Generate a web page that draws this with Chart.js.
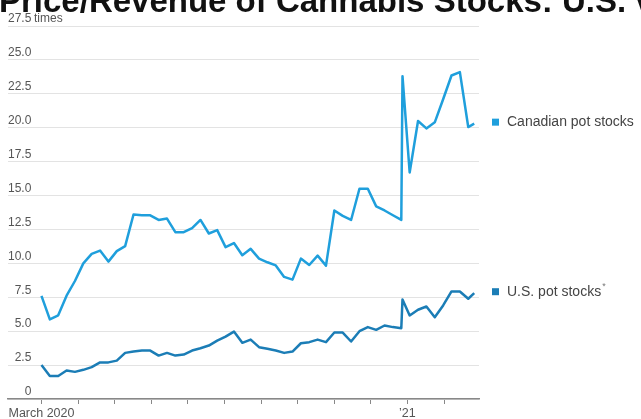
<!DOCTYPE html>
<html>
<head>
<meta charset="utf-8">
<script src="https://cdn.jsdelivr.net/npm/chart.js@4.4.0/dist/chart.umd.min.js"></script>
<style>
html, body { margin: 0; padding: 0; background: #fff; overflow: hidden; width: 641px; height: 419px; }
#wrap { position: relative; width: 641px; height: 423px; }
#myChart { position: absolute; left: 0; top: 0; }
#title { position: absolute; left: -1px; top: -16px; font: bold 33px "Liberation Sans", Arial, sans-serif; line-height: 33px; white-space: nowrap; color: #111; }
</style>
</head>
<body>
<div id="wrap">
  <canvas id="myChart" width="641" height="423"></canvas>
  <div id="title">Price/Revenue of Cannabis Stocks: U.S. vs. Canada</div>
</div>
<script>
// weekly observations (one extra print on Dec 28 and a last one on Feb 26)
const fechas = [
  '2020-03-01','2020-03-08','2020-03-15','2020-03-22','2020-03-29',
  '2020-04-05','2020-04-12','2020-04-19','2020-04-26',
  '2020-05-03','2020-05-10','2020-05-17','2020-05-24','2020-05-31',
  '2020-06-07','2020-06-14','2020-06-21','2020-06-28',
  '2020-07-05','2020-07-12','2020-07-19','2020-07-26',
  '2020-08-02','2020-08-09','2020-08-16','2020-08-23','2020-08-30',
  '2020-09-06','2020-09-13','2020-09-20','2020-09-27',
  '2020-10-04','2020-10-11','2020-10-18','2020-10-25',
  '2020-11-01','2020-11-08','2020-11-15','2020-11-22','2020-11-29',
  '2020-12-06','2020-12-13','2020-12-20','2020-12-27','2020-12-28',
  '2021-01-03','2021-01-10','2021-01-17','2021-01-24','2021-01-31',
  '2021-02-07','2021-02-14','2021-02-21','2021-02-26'
]
const canadienses = [
  7.6, 5.87, 6.17, 7.62, 8.7,
  10.0, 10.7, 10.94, 10.13,
  10.9, 11.27, 13.6, 13.54, 13.54,
  13.2, 13.3, 12.3, 12.3,
  12.6, 13.2, 12.2, 12.45,
  11.2, 11.5, 10.6, 11.07, 10.35,
  10.08, 9.85, 9.0, 8.8,
  10.35, 9.88, 10.57, 9.83,
  13.9, 13.5, 13.2, 15.5, 15.5,
  14.2, 13.9, 13.55, 13.2, 23.8,
  16.7, 20.5, 19.95, 20.4, 22.1,
  23.85, 24.1, 20.05, 20.3
]
const estadounidenses = [
  2.5, 1.7, 1.7, 2.1, 2.0,
  2.15, 2.35, 2.7, 2.7,
  2.83, 3.4, 3.5, 3.57, 3.57,
  3.2, 3.4, 3.2, 3.28,
  3.57, 3.74, 3.94, 4.3,
  4.6, 4.97, 4.14, 4.38, 3.82,
  3.7, 3.57, 3.4, 3.5,
  4.11, 4.19, 4.38, 4.19,
  4.9, 4.9, 4.24, 5.0, 5.3,
  5.1, 5.42, 5.3, 5.22, 7.34,
  6.16, 6.58, 6.82, 6.03, 6.9,
  7.93, 7.93, 7.39, 7.8
]
const meses = ['2020-03-01','2020-04-01','2020-05-01','2020-06-01','2020-07-01','2020-08-01',
  '2020-09-01','2020-10-01','2020-11-01','2020-12-01','2021-01-01','2021-02-01']
const etiquetasMes = ['March 2020','','','','','','','','','','\u201921','']
const series = ['Canadian pot stocks', 'U.S. pot stocks']
const colores = ['#1f9fdc', '#1b7db6']

const inicio = Date.UTC(2020, 2, 1)
function dia(f) {
  let p = f.split('-')
  return (Date.UTC(+p[0], +p[1] - 1, +p[2]) - inicio) / 86400000
}
const diasMes = meses.map(dia)

function puntos(valores) {
  return valores.map((v, i) => ({ x: dia(fechas[i]), y: v }))
}

const fuenteEje = '"Liberation Sans", Arial, sans-serif'

// legend text next to the last value of each line, plus the "times" unit
const etiquetasFinal = {
  id: 'etiquetasFinal',
  afterDraw(chart) {
    const c = chart.ctx
    const ys = chart.scales.y
    c.save()
    c.textBaseline = 'middle'
    chart.data.datasets.forEach((ds, i) => {
      const py = ys.getPixelForValue(ds.data[ds.data.length - 1].y) - 1.5
      c.fillStyle = colores[i]
      c.fillRect(492, py - 3.5, 7, 7)
      c.fillStyle = '#444'
      c.font = '14px "Liberation Sans", Arial, sans-serif'
      c.textAlign = 'left'
      c.fillText(ds.label, 507, py)
      if (i == 1) {
        let w = c.measureText(ds.label).width
        c.font = '9px "Liberation Sans", Arial, sans-serif'
        c.fillStyle = '#777'
        c.fillText('*', 507 + w + 1, py - 5)
      }
    })
    c.fillStyle = '#555'
    c.font = '12px ' + fuenteEje
    c.fillText('times', 34, ys.getPixelForValue(27.5) - 7)
    c.restore()
  }
}

new Chart(document.getElementById('myChart'), {
  type: 'line',
  data: {
    datasets: [
      { label: series[0], data: puntos(canadienses), borderColor: colores[0], backgroundColor: colores[0] },
      { label: series[1], data: puntos(estadounidenses), borderColor: colores[1], backgroundColor: colores[1] }
    ]
  },
  options: {
    responsive: false,
    animation: false,
    devicePixelRatio: 1,
    layout: { padding: { top: 26, left: 8, right: 162, bottom: 0 } },
    elements: {
      line: { borderWidth: 2.5, tension: 0, borderJoinStyle: 'round' },
      point: { radius: 0 }
    },
    plugins: { legend: { display: false }, tooltip: { enabled: false } },
    scales: {
      x: {
        type: 'linear',
        min: -28,
        max: 366,
        afterBuildTicks: axis => { axis.ticks = diasMes.map(v => ({ value: v })) },
        ticks: {
          autoSkip: false,
          maxRotation: 0,
          padding: 2,
          color: '#555',
          font: { family: fuenteEje, size: 12.5 },
          callback: (v) => {
            let i = diasMes.indexOf(v)
            return i >= 0 ? etiquetasMes[i] : ''
          }
        },
        grid: { drawOnChartArea: false, tickLength: 5, color: '#888', lineWidth: 1 },
        border: { color: '#888', width: 1.5 }
      },
      y: {
        min: 0,
        max: 27.5,
        ticks: {
          stepSize: 2.5,
          mirror: true,
          crossAlign: 'far',
          padding: 0,
          labelOffset: -7,
          color: '#555',
          font: { family: fuenteEje, size: 12 },
          callback: v => v == 0 ? '0' : v.toFixed(1)
        },
        grid: { color: '#e3e3e3', lineWidth: 1, drawTicks: false },
        border: { display: false }
      }
    }
  },
  plugins: [etiquetasFinal]
})
</script>
</body>
</html>
